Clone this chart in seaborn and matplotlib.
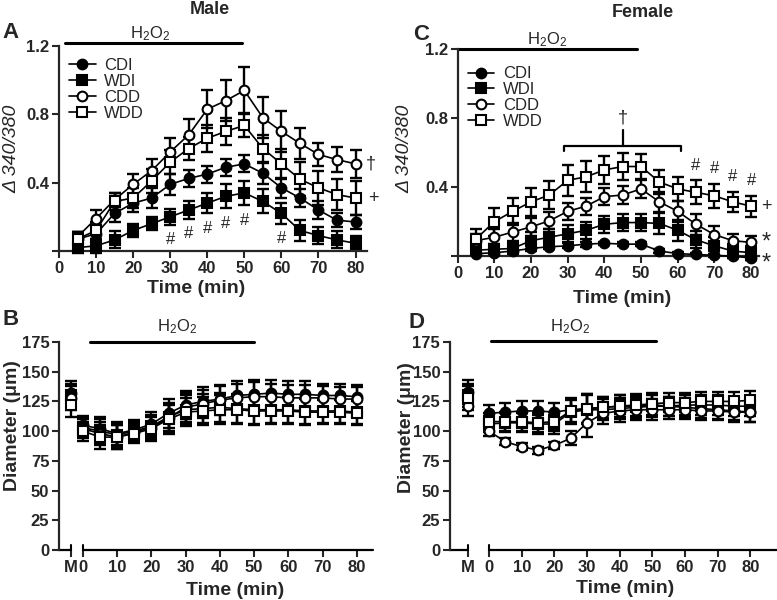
import numpy as np
import pandas as pd
import matplotlib
matplotlib.use("Agg")
import matplotlib.pyplot as plt
import matplotlib.transforms as mtransforms
import seaborn as sns

# ---- data -------------------------------------------------------------
groups = ["CDI", "WDI", "CDD", "WDD"]
ca_times = [5, 10, 15, 20, 25, 30, 35, 40, 45, 50, 55, 60, 65, 70, 75, 80]
dia_times = [0, 5, 10, 15, 20, 25, 30, 35, 40, 45, 50, 55, 60, 65, 70, 75, 80]

# A: male, delta 340/380
male_ca_cdi = [0.07, 0.10, 0.22, 0.28, 0.31, 0.39, 0.425, 0.45, 0.49, 0.51, 0.455, 0.37, 0.31, 0.24, 0.18, 0.17]
male_ca_cdi_err = [0.04, 0.05, 0.05, 0.05, 0.06, 0.06, 0.05, 0.05, 0.05, 0.05, 0.06, 0.06, 0.05, 0.05, 0.04, 0.04]
male_ca_wdi = [0.02, 0.03, 0.065, 0.12, 0.16, 0.20, 0.24, 0.28, 0.32, 0.34, 0.29, 0.22, 0.12, 0.09, 0.065, 0.045]
male_ca_wdi_err = [0.03, 0.04, 0.05, 0.04, 0.04, 0.045, 0.05, 0.06, 0.07, 0.07, 0.07, 0.06, 0.06, 0.05, 0.05, 0.04]
male_ca_cdd = [0.083, 0.19, 0.30, 0.39, 0.47, 0.58, 0.68, 0.83, 0.88, 0.94, 0.78, 0.70, 0.63, 0.565, 0.535, 0.51]
male_ca_cdd_err = [0.03, 0.05, 0.04, 0.06, 0.07, 0.08, 0.09, 0.11, 0.12, 0.14, 0.12, 0.12, 0.09, 0.07, 0.075, 0.08]
male_ca_wdd = [0.07, 0.12, 0.29, 0.31, 0.41, 0.52, 0.60, 0.66, 0.70, 0.735, 0.60, 0.51, 0.42, 0.37, 0.33, 0.31]
male_ca_wdd_err = [0.04, 0.05, 0.05, 0.06, 0.07, 0.07, 0.07, 0.08, 0.08, 0.07, 0.08, 0.09, 0.10, 0.10, 0.09, 0.10]

# C: female, delta 340/380
fem_ca_cdi = [0.015, 0.02, 0.03, 0.045, 0.055, 0.06, 0.07, 0.075, 0.07, 0.07, 0.03, 0.015, 0.01, 0.005, 0.0, -0.01]
fem_ca_cdi_err = [0.01, 0.01, 0.01, 0.015, 0.015, 0.015, 0.015, 0.01, 0.01, 0.01, 0.01, 0.01, 0.01, 0.01, 0.01, 0.01]
fem_ca_wdi = [0.035, 0.04, 0.045, 0.09, 0.11, 0.13, 0.15, 0.185, 0.195, 0.195, 0.19, 0.15, 0.095, 0.06, 0.03, 0.02]
fem_ca_wdi_err = [0.03, 0.03, 0.03, 0.05, 0.05, 0.05, 0.05, 0.05, 0.05, 0.05, 0.06, 0.06, 0.05, 0.05, 0.04, 0.04]
fem_ca_cdd = [0.09, 0.11, 0.14, 0.17, 0.205, 0.26, 0.29, 0.345, 0.355, 0.39, 0.315, 0.26, 0.185, 0.125, 0.09, 0.08]
fem_ca_cdd_err = [0.04, 0.05, 0.05, 0.05, 0.05, 0.05, 0.05, 0.05, 0.05, 0.05, 0.06, 0.06, 0.06, 0.05, 0.04, 0.04]
fem_ca_wdd = [0.10, 0.20, 0.26, 0.315, 0.355, 0.44, 0.46, 0.50, 0.52, 0.52, 0.43, 0.39, 0.37, 0.35, 0.315, 0.29]
fem_ca_wdd_err = [0.06, 0.08, 0.08, 0.08, 0.08, 0.09, 0.09, 0.08, 0.08, 0.07, 0.07, 0.07, 0.07, 0.07, 0.06, 0.06]

# B: male diameter (M = baseline before the time course)
male_dia_m = [132, 130, 128, 122]
male_dia_m_err = [10, 10, 10, 10]
male_dia_cdi = [105, 102, 98, 101, 106, 115, 122, 125, 127, 130, 131, 132, 131, 131, 130, 130, 129]
male_dia_wdi = [103, 100, 97, 100, 104, 112, 118, 119, 120, 119, 118, 118, 118, 117, 117, 117, 116]
male_dia_cdd = [102, 98, 95, 99, 103, 111, 120, 123, 126, 128, 129, 129, 128, 128, 128, 127, 127]
male_dia_wdd = [100, 95, 95, 98, 102, 110, 116, 117, 118, 118, 117, 117, 117, 116, 116, 116, 115]
male_dia_err = [8, 10, 10, 8, 10, 12, 12, 12, 12, 12, 12, 11, 11, 11, 10, 10, 10]

# D: female diameter
fem_dia_m = [133, 130, 121, 128]
fem_dia_m_err = [10, 10, 8, 10]
fem_dia_cdi = [115, 116, 117, 117, 116, 118, 119, 120, 121, 121, 122, 121, 120, 119, 118, 117, 116]
fem_dia_wdi = [106, 107, 107, 106, 106, 116, 118, 118, 119, 120, 121, 121, 122, 122, 122, 121, 121]
fem_dia_cdd = [100, 91, 87, 84, 88, 94, 107, 115, 117, 118, 118, 118, 118, 117, 117, 116, 116]
fem_dia_wdd = [108, 108, 108, 107, 108, 117, 119, 120, 121, 122, 123, 124, 124, 125, 125, 125, 126]
fem_dia_err = [7, 8, 8, 8, 8, 10, 12, 9, 9, 9, 9, 8, 8, 8, 8, 8, 8]
fem_dia_cdd_err = [4, 3, 3, 3, 3, 6, 12, 9, 9, 9, 9, 8, 8, 8, 8, 8, 8]

# ---- style ------------------------------------------------------------
sns.set_style("ticks")
plt.rcParams["font.family"] = ["Liberation Sans", "DejaVu Sans"]
plt.rcParams["mathtext.fontset"] = "custom"
plt.rcParams["mathtext.rm"] = "Liberation Sans"
plt.rcParams["mathtext.it"] = "Liberation Sans:italic"

markers = {"CDI": ("o", "black"), "WDI": ("s", "black"),
           "CDD": ("o", "white"), "WDD": ("s", "white")}


def draw_series(ax, x, y, err, group, label=None):
    mk, face = markers[group]
    df = pd.DataFrame({"x": x, "y": y})
    sns.lineplot(data=df, x="x", y="y", ax=ax, color="black", marker=mk,
                 markersize=7, markerfacecolor=face, markeredgecolor="black",
                 markeredgewidth=1.5, linewidth=1.2, label=label,
                 legend=label is not None, zorder=3, clip_on=False)
    ax.errorbar(x, y, yerr=err, fmt="none", ecolor="black", elinewidth=1.7,
                capsize=4.5, capthick=1.7, zorder=2, clip_on=False)


def style_axes(ax):
    sns.despine(ax=ax)
    for s in ("left", "bottom"):
        ax.spines[s].set_linewidth(1.6)
    ax.tick_params(direction="out", length=5, width=1.5, labelsize=12, pad=2)
    for lab in ax.get_xticklabels() + ax.get_yticklabels():
        lab.set_fontweight("bold")


def h2o2(ax, x0, x1, yline, xt, yt):
    ax.plot([x0, x1], [yline, yline], color="black", lw=2.2, clip_on=False)
    ax.text(xt, yt, r"H$_2$O$_2$", ha="center", va="center", fontsize=12)


fig = plt.figure(figsize=(7.77, 6), dpi=100)

# ---- calcium panels -----------------------------------------------------
ca_sets = {
    "A": ([0.0759, 0.5817, 0.396, 0.3416], (0, 83), 0.99,
          [(male_ca_cdi, male_ca_cdi_err), (male_ca_wdi, male_ca_wdi_err),
           (male_ca_cdd, male_ca_cdd_err), (male_ca_wdd, male_ca_wdd_err)]),
    "C": ([0.589, 0.573, 0.388, 0.345], (0, 82.2), 0.965,
          [(fem_ca_cdi, fem_ca_cdi_err), (fem_ca_wdi, fem_ca_wdi_err),
           (fem_ca_cdd, fem_ca_cdd_err), (fem_ca_wdd, fem_ca_wdd_err)]),
}
ca_axes = {}
for key, (rect, xlim, leg_y, series) in ca_sets.items():
    ax = fig.add_axes(rect)
    for g, (vals, errs) in zip(groups, series):
        draw_series(ax, ca_times, vals, errs, g, label=g)
    ax.set_xlim(*xlim)
    ax.set_ylim(0, 1.2)
    ax.set_xticks(range(0, 81, 10))
    ax.set_yticks([0, 0.4, 0.8, 1.2])
    ax.set_yticklabels(["", "0.4", "0.8", "1.2"])
    ax.set_xlabel("Time (min)", fontsize=14, fontweight="bold")
    ax.set_ylabel("\u0394 340/380", fontsize=14, fontstyle="italic")
    style_axes(ax)
    h, l = ax.get_legend_handles_labels()
    ax.legend(h, l, loc="upper left", bbox_to_anchor=(0.0, leg_y), frameon=False,
              fontsize=12, handlelength=1.6, handletextpad=0.5,
              labelspacing=0.05, borderaxespad=0.2)
    ca_axes[key] = ax

axA, axC = ca_axes["A"], ca_axes["C"]
axA.xaxis.set_label_coords(0.445, -0.14)
axA.yaxis.set_label_coords(-0.127, 0.5)
axC.xaxis.set_label_coords(0.545, -0.165)
axC.yaxis.set_label_coords(-0.148, 0.52)
h2o2(axA, 1.6, 49.3, 1.216, 24.5, 1.27)
h2o2(axC, 0.4, 49.0, 1.2, 24.4, 1.255)

# A annotations
for t in [30, 35, 40, 45, 50, 60]:
    i = ca_times.index(t)
    axA.annotate("#", xy=(t, male_ca_wdi[i] - male_ca_wdi_err[i]), xytext=(0, -11),
                 textcoords="offset points", ha="center", va="center", fontsize=12)
axA.annotate("\u2020", xy=(80, male_ca_cdd[-1]), xytext=(11, 0), textcoords="offset points",
             ha="center", va="center", fontsize=13, annotation_clip=False)
axA.annotate("+", xy=(80, male_ca_wdd[-1]), xytext=(13, 0), textcoords="offset points",
             ha="center", va="center", fontsize=13, annotation_clip=False)

# C annotations
for t in [65, 70, 75, 80]:
    i = ca_times.index(t)
    axC.annotate("#", xy=(t, fem_ca_wdd[i] + fem_ca_wdd_err[i]), xytext=(0, 11),
                 textcoords="offset points", ha="center", va="center", fontsize=12)
axC.plot([29, 29, 61, 61], [0.61, 0.64, 0.64, 0.61], color="black", lw=1.6)
axC.plot([45, 45], [0.64, 0.73], color="black", lw=1.6)
axC.text(45, 0.80, "\u2020", ha="center", va="center", fontsize=13)
axC.annotate("+", xy=(80, fem_ca_wdd[-1]), xytext=(11, 0), textcoords="offset points",
             ha="center", va="center", fontsize=13, annotation_clip=False)
axC.annotate("*", xy=(80, fem_ca_cdd[-1]), xytext=(11, 0), textcoords="offset points",
             ha="center", va="center", fontsize=17, annotation_clip=False)
axC.annotate("*", xy=(80, fem_ca_wdi[-1]), xytext=(11, -8), textcoords="offset points",
             ha="center", va="center", fontsize=17, annotation_clip=False)

# ---- diameter panels ----------------------------------------------------
dia_sets = {
    "B": ([0.0759, 0.0833, 0.404, 0.3467], (-7, 84.7), -3.5,
          male_dia_m, male_dia_m_err,
          [male_dia_cdi, male_dia_wdi, male_dia_cdd, male_dia_wdd],
          [male_dia_err] * 4),
    "D": ([0.579, 0.0833, 0.421, 0.3467], (-12, 88.2), -6.5,
          fem_dia_m, fem_dia_m_err,
          [fem_dia_cdi, fem_dia_wdi, fem_dia_cdd, fem_dia_wdd],
          [fem_dia_err, fem_dia_err, fem_dia_cdd_err, fem_dia_err]),
}
dia_axes = {}
for key, (rect, xlim, m_pos, mvals, merrs, series, errs) in dia_sets.items():
    ax = fig.add_axes(rect)
    for g, vals, err, mv, me in zip(groups, series, errs, mvals, merrs):
        draw_series(ax, dia_times, vals, err, g)
        draw_series(ax, [m_pos], [mv], [me], g)
    ax.set_xlim(*xlim)
    ax.set_ylim(0, 175)
    ax.set_yticks(range(0, 176, 25))
    ax.set_xticks([m_pos] + list(range(0, 81, 10)))
    ax.set_xticklabels(["M"] + [str(v) for v in range(0, 81, 10)])
    ax.set_xlabel("Time (min)", fontsize=14, fontweight="bold")
    ax.set_ylabel("Diameter (\u03bcm)", fontsize=14, fontweight="bold")
    style_axes(ax)
    # broken x axis between M and 0
    ax.spines["bottom"].set_visible(False)
    ax.plot([xlim[0], m_pos], [0, 0], color="black", lw=1.6, clip_on=False)
    ax.plot([0, xlim[1]], [0, 0], color="black", lw=1.6, clip_on=False)
    tr = mtransforms.blended_transform_factory(ax.transData, ax.transAxes)
    for xb in (m_pos, 0):
        ax.plot([xb, xb], [0, 0.025], color="black", lw=1.5, transform=tr, clip_on=False)
    dia_axes[key] = ax

axB, axD = dia_axes["B"], dia_axes["D"]
axB.xaxis.set_label_coords(0.56, -0.154)
axB.yaxis.set_label_coords(-0.122, 0.596)
axD.xaxis.set_label_coords(0.536, -0.144)
axD.yaxis.set_label_coords(-0.107, 0.59)
h2o2(axB, 2, 50, 175.4, 27.4, 187.6)
h2o2(axD, 0.7, 51, 175.7, 24.8, 187.6)

# ---- titles and panel letters -------------------------------------------
fig.text(0.270, 0.998, "Male", ha="center", va="top", fontsize=13, fontweight="bold")
fig.text(0.8275, 0.994, "Female", ha="center", va="top", fontsize=13, fontweight="bold")
for letter, x, y in [("A", 0.003, 0.945), ("C", 0.532, 0.943),
                     ("B", 0.003, 0.467), ("D", 0.526, 0.463)]:
    fig.text(x, y, letter, ha="left", va="center", fontsize=16, fontweight="bold")

fig.savefig("out.png", dpi=100)
